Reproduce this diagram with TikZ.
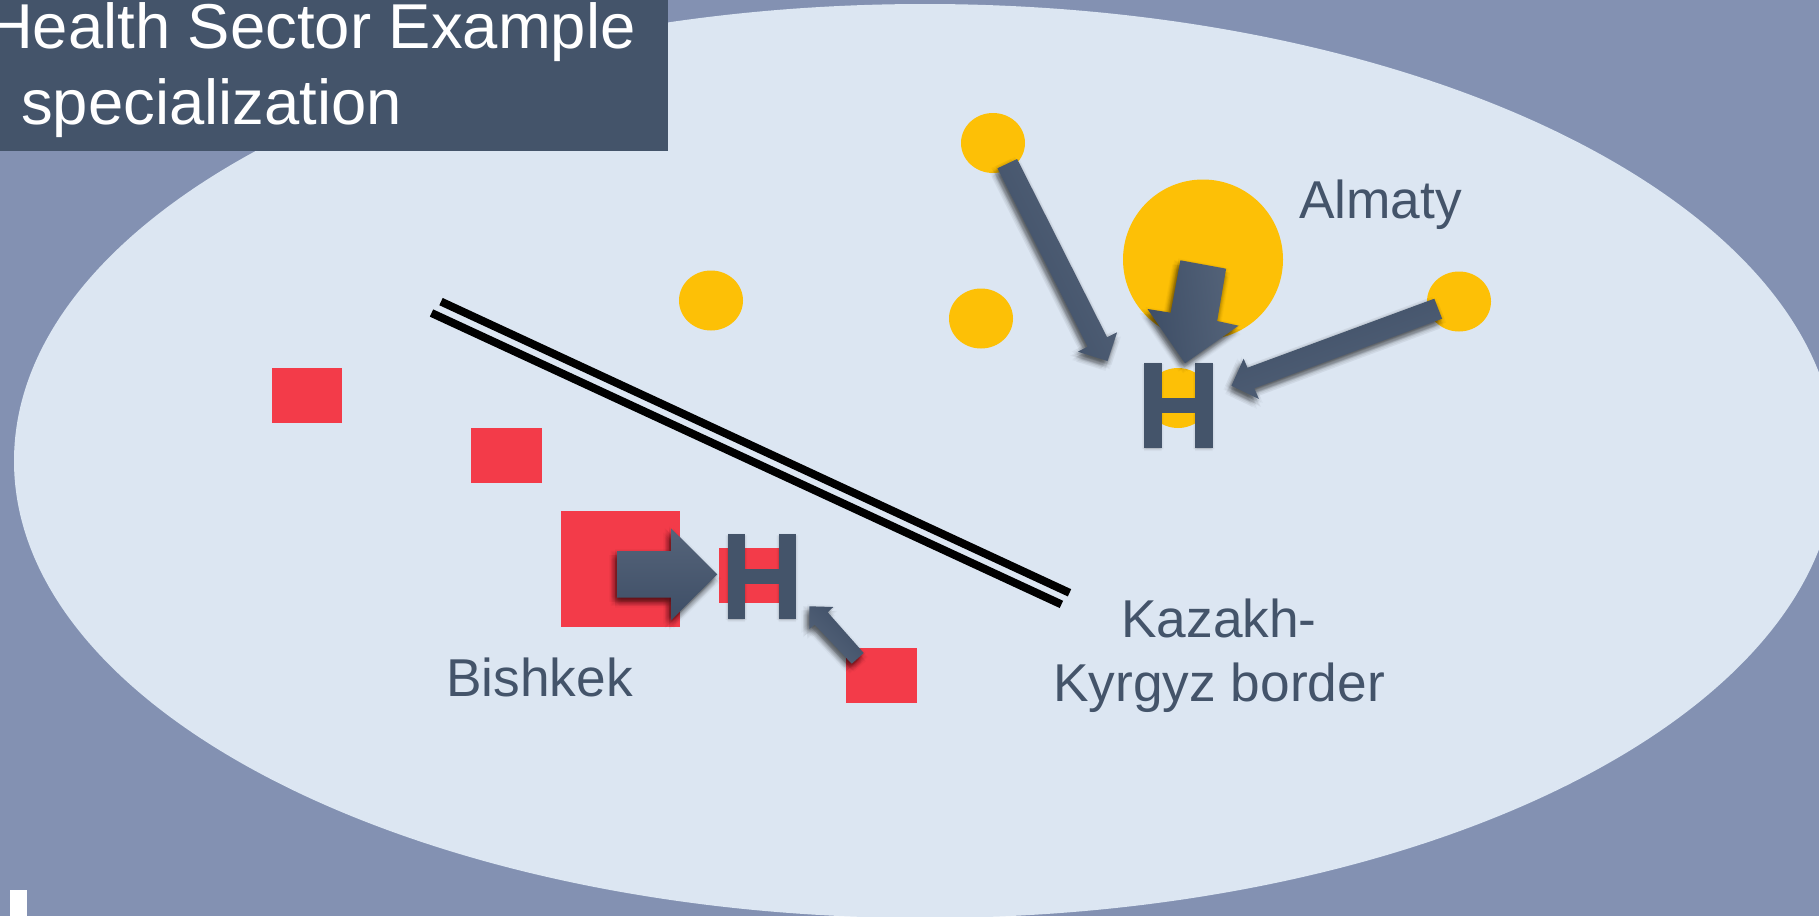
\documentclass[tikz,border=0pt]{standalone}
\usepackage{fontspec}
\setmainfont{Liberation Sans}
\definecolor{bgc}{HTML}{8391B2}
\definecolor{ell}{HTML}{DCE6F2}
\definecolor{dark}{HTML}{44546A}
\definecolor{darkb}{HTML}{3E4E66}
\definecolor{darkl}{HTML}{55647A}
\definecolor{yel}{HTML}{FDC006}
\definecolor{redc}{HTML}{F33B49}
\tikzset{
  x=0.05cm,y=-0.05cm,
  town/.style={fill=yel},
  redbox/.style={fill=redc},
  label/.style={anchor=base west,inner sep=0pt,text=dark,font=\fontsize{75.8}{75.8}\selectfont},
  titletext/.style={anchor=base west,inner sep=0pt,text=white,font=\fontsize{90.2}{90.2}\selectfont},
  border/.style={draw=black,line width=0.4cm},
}
% blurred shadow (many faint offset copies) plus gradient fill for a block shape
\newcommand{\softshape}[2]{%
  \foreach \r in {1.5,3,4.5,6}{\foreach \a in {0,45,...,315}{%
    \fill[black,opacity=0.028,shift={({-2+\r*cos(\a)},{4+\r*sin(\a)})}] #2 -- cycle;}}%
  \shade[top color=darkl,bottom color=darkb,shading angle=#1] #2 -- cycle;}
\newcommand{\hbars}[4]{%
  \foreach \r in {1,2}{\foreach \a in {0,90,180,270}{%
    \fill[black,opacity=0.03,shift={({\r*cos(\a)},{1+\r*sin(\a)})}] (#1,#3) rectangle (#1+17.5,#4) (#2,#3) rectangle (#2+17.5,#4);}}%
  \fill[dark] (#1,#3) rectangle (#1+17.5,#4);
  \fill[dark] (#2,#3) rectangle (#2+17.5,#4);
  \fill[dark] (#1,{(#3+#4)/2-8}) rectangle (#2,{(#3+#4)/2+7});}
\begin{document}
\begin{tikzpicture}
\useasboundingbox (0,0) rectangle (1819,916);
\clip (0,0) rectangle (1819,916);
\fill[bgc] (0,0) rectangle (1819,916);
\fill[ell] (925,461) ellipse [x radius=911,y radius=457];

% title
\fill[dark] (0,0) rectangle (668,151);
\node[titletext] (t1) at (-13,48) {Health Sector Example};
\node[titletext] (t2) at (21,124) {specialization};

% Almaty side
\fill[town] (993,143) ellipse [x radius=32,y radius=30];
\fill[town] (711,300.5) ellipse [x radius=32,y radius=30];
\fill[town] (981,318.5) ellipse [x radius=32,y radius=30];
\fill[town] (1459,301.5) ellipse [x radius=32,y radius=30];
\fill[town] (1203,259.5) ellipse [x radius=80,y radius=80];
\fill[town] (1178,398) ellipse [x radius=32,y radius=30];
\hbars{1144}{1195}{363}{448}
\softshape{-64}{(997.5,168.3) -- (1017.1,159) -- (1107.1,337.3) -- (1117.1,332.3) -- (1107.5,361) -- (1077.9,351.7) -- (1087.5,346.7)}
\softshape{-83}{(1180.4,260.3) -- (1226.1,268.7) -- (1217.1,321) -- (1238.6,325.7) -- (1185,363.3) -- (1147.5,309) -- (1170.7,312.7)}
\softshape{200}{(1434.3,298.7) -- (1442.1,318.7) -- (1254.3,388.3) -- (1258.9,399) -- (1231.4,385.7) -- (1243.6,358.7) -- (1247.5,367.7)}

% Bishkek side
\fill[redbox] (271.5,368) rectangle (342,423);
\fill[redbox] (471,428) rectangle (542,483);
\fill[redbox] (561,511) rectangle (680,627);
\fill[redbox] (719,548) rectangle (782,603);
\fill[redbox] (846,648) rectangle (917,703);
\hbars{727.7}{778.7}{534.3}{619}
\softshape{0}{(617,551) -- (671,551) -- (671,528.3) -- (717.3,574.3) -- (671,620.3) -- (671,597.7) -- (617,597.7)}
\softshape{135}{(863.7,653) -- (851.7,663.7) -- (814.7,624.7) -- (809.3,629) -- (809.3,606.3) -- (833.3,607) -- (827.7,612.3)}

% border
\coordinate (b1a) at (441,301.6);
\coordinate (b1b) at (1069.5,592.8);
\coordinate (b2a) at (431.5,313);
\coordinate (b2b) at (1061.4,604.4);
\draw[border] (b1a) -- (b1b);
\draw[border] (b2a) -- (b2b);

% labels
\node[label] (almaty) at (1299,218) {Almaty};
\node[label] (bishkek) at (446,696) {Bishkek};
\node[label,anchor=base] (k1) at (1219,637) {Kazakh-};
\node[label,anchor=base] (k2) at (1219,701) {Kyrgyz border};

% corner mark
\fill[white] (10,890) rectangle (27,916);
\end{tikzpicture}
\end{document}
